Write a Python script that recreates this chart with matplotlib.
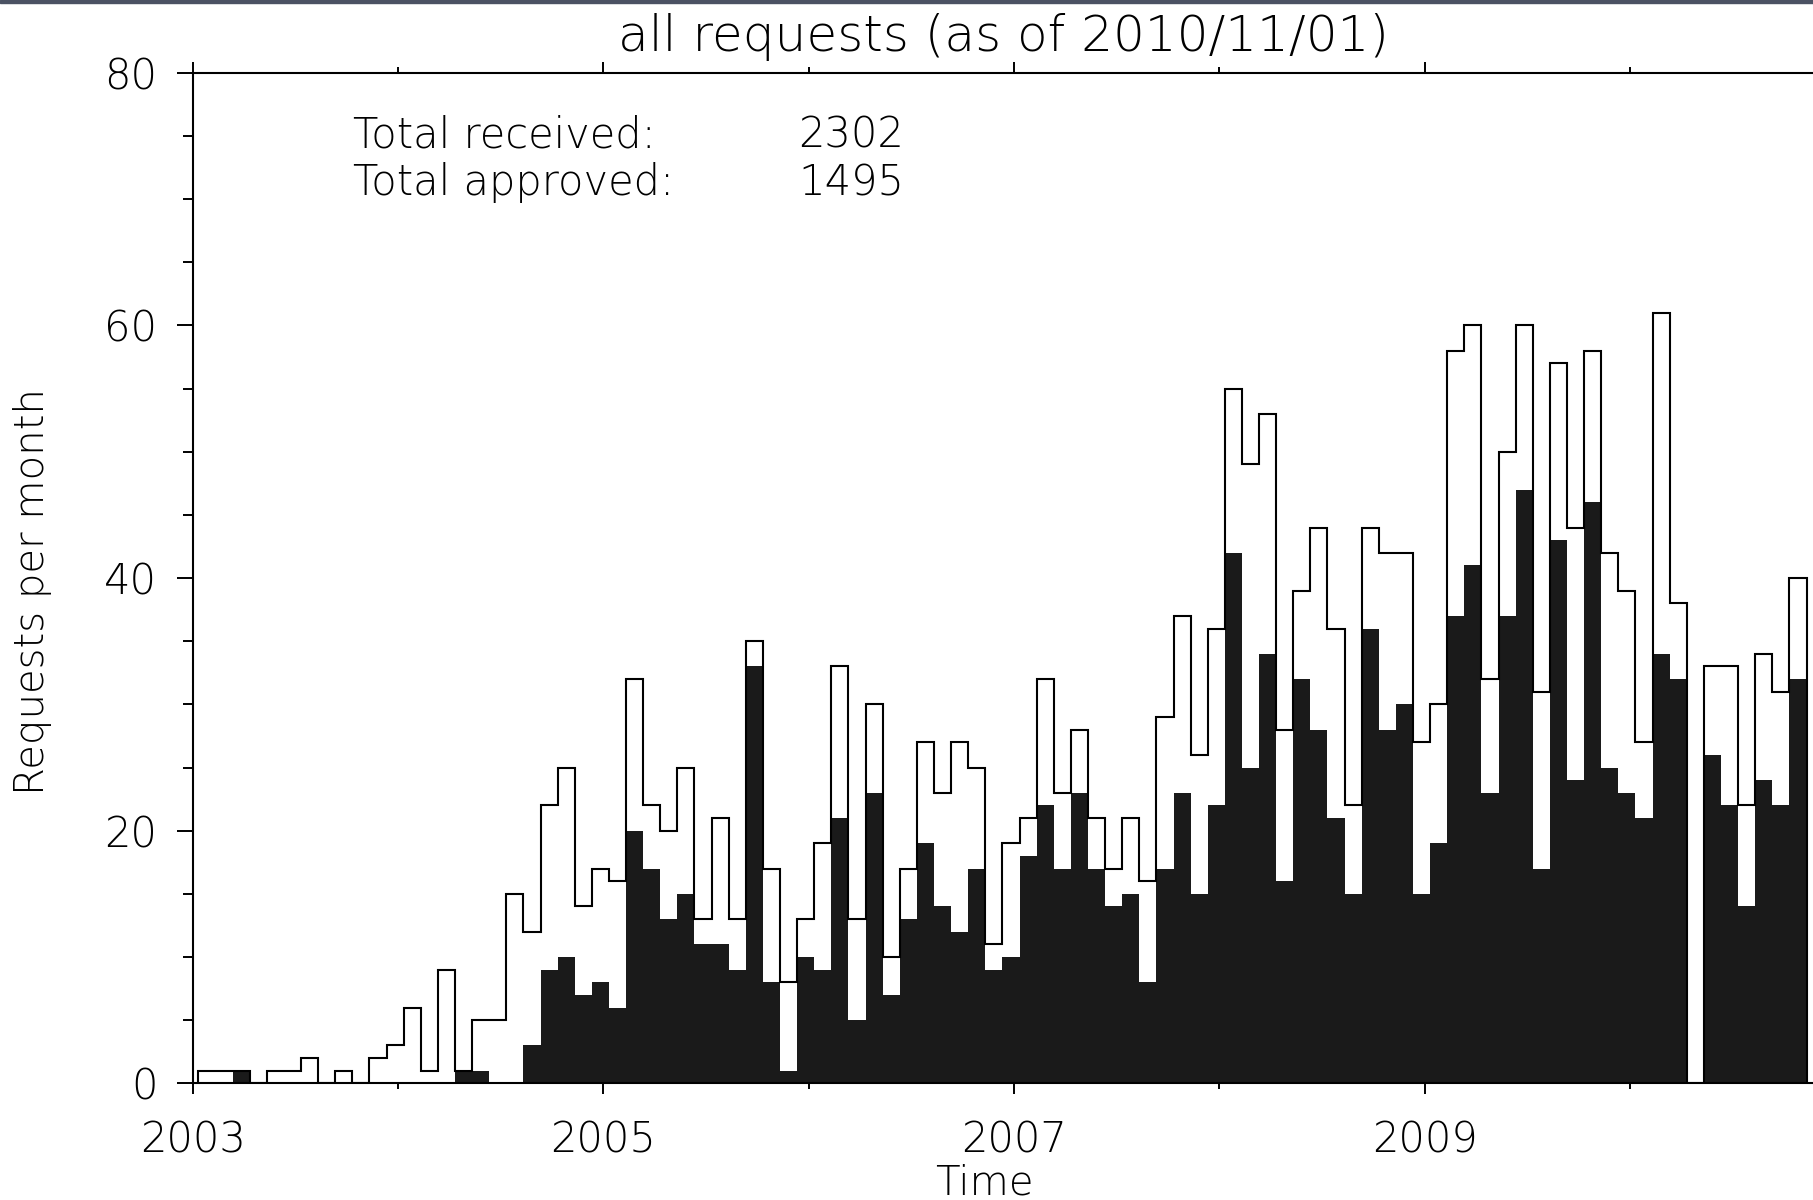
import numpy as np
import matplotlib.pyplot as plt
from matplotlib.patches import Rectangle

# monthly counts, Jan 2003 .. Oct 2010
received = [1, 1, 1, 0, 1, 1, 2, 0, 1, 0, 2, 3,
            6, 1, 9, 1, 5, 5, 15, 12, 22, 25, 14, 17,
            16, 32, 22, 20, 25, 13, 21, 13, 35, 17, 8, 13,
            19, 33, 13, 30, 10, 17, 27, 23, 27, 25, 11, 19,
            21, 32, 23, 28, 21, 17, 21, 16, 29, 37, 26, 36,
            55, 49, 53, 28, 39, 44, 36, 22, 44, 42, 42, 27,
            30, 58, 60, 32, 50, 60, 31, 57, 44, 58, 42, 39,
            27, 61, 38, 0, 33, 33, 22, 34, 31, 40]
approved = [0, 0, 1, 0, 0, 0, 0, 0, 0, 0, 0, 0,
            0, 0, 0, 1, 1, 0, 0, 3, 9, 10, 7, 8,
            6, 20, 17, 13, 15, 11, 11, 9, 33, 8, 1, 10,
            9, 21, 5, 23, 7, 13, 19, 14, 12, 17, 9, 10,
            18, 22, 17, 23, 17, 14, 15, 8, 17, 23, 15, 22,
            42, 25, 34, 16, 32, 28, 21, 15, 36, 28, 30, 15,
            19, 37, 41, 23, 37, 47, 17, 43, 24, 46, 25, 23,
            21, 34, 32, 0, 26, 22, 14, 24, 22, 32]
start_year = 2003
title = "all requests (as of 2010/11/01)"

received = np.array(received)
approved = np.array(approved)
edges = start_year + (np.arange(len(received) + 1) + 0.33) / 12.0

plt.rcParams['font.family'] = ['DejaVu Sans']
plt.rcParams['font.weight'] = 'light'
plt.rcParams['axes.labelweight'] = 'light'
fig = plt.figure(figsize=(18.13, 12), dpi=100)
fig.patches.append(Rectangle((0, 1 - 3 / 1200), 1, 3 / 1200,
                             transform=fig.transFigure, color='#4b5263'))

# axes runs past the right edge, as in the original
ax = fig.add_axes([0.10629, 0.09725, 0.90590, 0.84208])

ax.stairs(approved, edges, fill=True, color='#1a1a1a', lw=0)
ax.stairs(received, edges, baseline=0, fill=False, color='k', lw=1.5)

ax.set_xlim(2003, 2011)
ax.set_ylim(0, 80)

ax.set_xticks([2003, 2005, 2007, 2009])
ax.set_xticks([2004, 2006, 2008, 2010], minor=True)
ax.set_yticks([0, 20, 40, 60, 80])
ax.set_yticks(np.arange(0, 81, 5), minor=True)

for s in ax.spines.values():
    s.set_linewidth(1.5)
ax.spines['right'].set_visible(False)

ax.tick_params(axis='x', which='major', direction='out', top=True,
               length=8, width=1.4, pad=18, labelsize=30)
ax.tick_params(axis='x', which='minor', direction='out', top=True,
               length=4, width=1.4)
ax.tick_params(axis='y', which='major', direction='out', length=11.5,
               width=1.4, pad=14, labelsize=30)
ax.tick_params(axis='y', which='minor', direction='out', length=7,
               width=1.4)

ax.set_xlabel("Time", fontsize=29, fontweight='light')
ax.xaxis.set_label_coords(0.482, -0.079)
ax.set_ylabel("Requests per month", fontsize=29, fontweight='light')
ax.yaxis.set_label_coords(-0.0857, 0.487)

fig.text(1003 / 1813, 1 - 37 / 1200, title, ha='center', va='center',
         fontsize=36)

ax.text(0.0976, 0.9384, "Total received:", transform=ax.transAxes,
        ha='left', va='center', fontsize=30)
ax.text(0.4331, 0.9384, f"{received.sum()}", transform=ax.transAxes,
        ha='right', va='center', fontsize=30)
ax.text(0.0976, 0.891, "Total approved:", transform=ax.transAxes,
        ha='left', va='center', fontsize=30)
ax.text(0.4331, 0.891, f"{approved.sum()}", transform=ax.transAxes,
        ha='right', va='center', fontsize=30)

fig.savefig("out.png", dpi=100)
